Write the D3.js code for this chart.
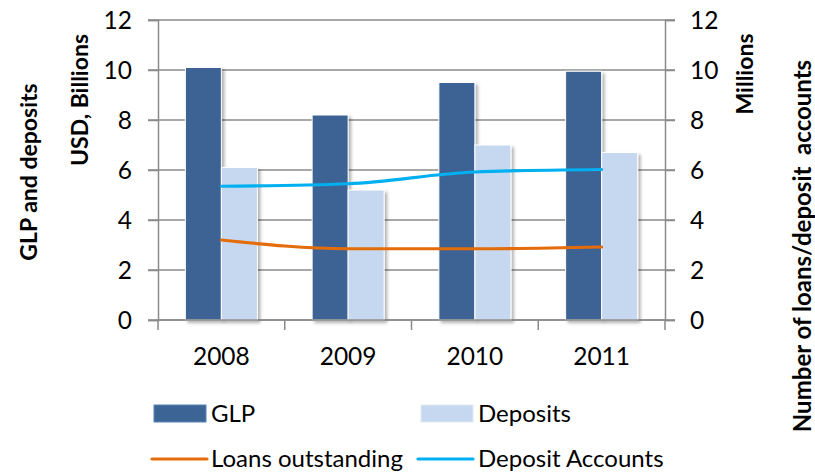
<!DOCTYPE html>
<html>
<head>
<meta charset="utf-8">
<script src="https://cdn.jsdelivr.net/npm/d3@7"></script>
<style>
  body { margin: 0; background: #fff; }
  svg { font-family: Lato, "Open Sans", sans-serif; }
  .tick-label { font-size: 24.5px; fill: #000; }
  .axis-title { font-size: 23px; font-weight: bold; fill: #000; white-space: pre; }
  .legend-label { font-size: 24px; fill: #000; }
</style>
</head>
<body>
<svg id="chart" width="815" height="473"></svg>
<script>
const YEARS = ["2008", "2009", "2010", "2011"];
const GLP = [10.1, 8.2, 9.5, 9.95];
const DEPOSITS = [6.1, 5.2, 7.0, 6.7];
const LOANS_OUTSTANDING = [3.2, 2.85, 2.85, 2.92];
const DEPOSIT_ACCOUNTS = [5.35, 5.45, 5.92, 6.02];
const Y_TICKS = [0, 2, 4, 6, 8, 10, 12];

const BAR_SERIES = [
  { name: "GLP", values: GLP, color: "#3C6494" },
  { name: "Deposits", values: DEPOSITS, color: "#C6D8EF" },
];
const LINE_SERIES = [
  { name: "Loans outstanding", values: LOANS_OUTSTANDING, color: "#E46C0A" },
  { name: "Deposit Accounts", values: DEPOSIT_ACCOUNTS, color: "#00B0F0" },
];

const PLOT = { left: 158, right: 665, top: 20, bottom: 320 };
const GRID = "#8a8a8a";

const svg = d3.select("#chart");

const defs = svg.append("defs");
defs
  .append("filter")
  .attr("id", "shadow")
  .attr("x", "-20%")
  .attr("y", "-5%")
  .attr("width", "150%")
  .attr("height", "120%")
  .append("feDropShadow")
  .attr("dx", 2.5)
  .attr("dy", 2.5)
  .attr("stdDeviation", 1.8)
  .attr("flood-color", "#000")
  .attr("flood-opacity", 0.3);

const x = d3
  .scaleBand()
  .domain(YEARS)
  .range([PLOT.left, PLOT.right])
  .padding(0);

const xInner = d3
  .scaleBand()
  .domain(BAR_SERIES.map((s) => s.name))
  .range([0, x.bandwidth()])
  .paddingInner(0)
  .paddingOuter(0.76);

const y = d3.scaleLinear().domain([0, 12]).range([PLOT.bottom, PLOT.top]);
const yRight = d3.scaleLinear().domain([0, 12]).range([PLOT.bottom, PLOT.top]);

// gridlines (incl. the little tick stubs on both sides)
svg
  .append("g")
  .selectAll("line")
  .data(Y_TICKS)
  .join("line")
  .attr("x1", PLOT.left - 10)
  .attr("x2", PLOT.right + 10)
  .attr("y1", (d) => y(d))
  .attr("y2", (d) => y(d))
  .attr("stroke", GRID)
  .attr("stroke-width", 1.5);

// left axis
const leftAxis = svg
  .append("g")
  .attr("transform", "translate(" + PLOT.left + ",0)")
  .call(d3.axisLeft(y).tickValues(Y_TICKS).tickSize(10).tickPadding(16));
// right axis
const rightAxis = svg
  .append("g")
  .attr("transform", "translate(" + PLOT.right + ",0)")
  .call(d3.axisRight(yRight).tickValues(Y_TICKS).tickSize(10).tickPadding(15));

[leftAxis, rightAxis].forEach((g) => {
  g.attr("font-family", null).attr("font-size", null);
  g.select(".domain").attr("stroke", GRID).attr("stroke-width", 1.5);
  g.selectAll(".tick line").attr("stroke", GRID).attr("stroke-width", 1.5);
  g.selectAll(".tick text").attr("class", "tick-label").attr("dy", "0.35em");
});

// bars
const groups = svg
  .append("g")
  .selectAll("g")
  .data(YEARS)
  .join("g")
  .attr("transform", (d) => "translate(" + x(d) + ",0)");

groups
  .selectAll("rect")
  .data((d, i) => BAR_SERIES.map((s) => ({ name: s.name, value: s.values[i], color: s.color })))
  .join("rect")
  .attr("x", (d) => xInner(d.name))
  .attr("width", xInner.bandwidth())
  .attr("y", (d) => y(d.value))
  .attr("height", (d) => y(0) - y(d.value))
  .attr("fill", (d) => d.color)
  .attr("stroke", "#fff")
  .attr("stroke-width", 1)
  .attr("filter", "url(#shadow)");

// bottom axis
const bottom = svg.append("g");
bottom
  .append("line")
  .attr("x1", PLOT.left)
  .attr("x2", PLOT.right)
  .attr("y1", PLOT.bottom)
  .attr("y2", PLOT.bottom)
  .attr("stroke", GRID)
  .attr("stroke-width", 1.5);
bottom
  .selectAll(".cat-tick")
  .data(YEARS.concat(["end"]))
  .join("line")
  .attr("class", "cat-tick")
  .attr("x1", (d) => (d === "end" ? PLOT.right : x(d)))
  .attr("x2", (d) => (d === "end" ? PLOT.right : x(d)))
  .attr("y1", PLOT.bottom)
  .attr("y2", PLOT.bottom + 10)
  .attr("stroke", GRID)
  .attr("stroke-width", 1.5);
bottom
  .selectAll("text")
  .data(YEARS)
  .join("text")
  .attr("class", "tick-label")
  .attr("x", (d) => x(d) + x.bandwidth() / 2)
  .attr("y", 365)
  .attr("text-anchor", "middle")
  .text((d) => d);

// lines
const line = d3
  .line()
  .curve(d3.curveMonotoneX)
  .x((d, i) => x(YEARS[i]) + x.bandwidth() / 2)
  .y((d) => yRight(d));

svg
  .append("g")
  .selectAll("path")
  .data(LINE_SERIES)
  .join("path")
  .attr("d", (d) => line(d.values))
  .attr("fill", "none")
  .attr("stroke", (d) => d.color)
  .attr("stroke-width", 3.2)
  .attr("stroke-linecap", "round");

// axis titles
const titles = [
  { text: "GLP and deposits", x: 29, y: 172 },
  { text: "USD, Billions", x: 80, y: 100 },
  { text: "Millions", x: 745, y: 74 },
  { text: "Number of loans/deposit  accounts", x: 803, y: 246, size: 24 },
];
svg
  .append("g")
  .selectAll("text")
  .data(titles)
  .join("text")
  .attr("class", "axis-title")
  .attr("transform", (d) => "translate(" + d.x + "," + d.y + ") rotate(-90)")
  .attr("text-anchor", "middle")
  .attr("dy", "0.35em")
  .style("font-size", (d) => (d.size ? d.size + "px" : null))
  .text((d) => d.text);

// legend
const legend = svg.append("g");
const barLegend = legend
  .selectAll(".bar-item")
  .data(BAR_SERIES)
  .join("g")
  .attr("class", "bar-item")
  .attr("transform", (d, i) => "translate(" + (i === 0 ? 154 : 421) + ",405)");
barLegend
  .append("rect")
  .attr("width", 52)
  .attr("height", 17)
  .attr("fill", (d) => d.color)
  .attr("stroke", (d, i) => (i === 0 ? "#5b84b8" : "#e0e9f5"))
  .attr("stroke-width", 1);
barLegend
  .append("text")
  .attr("class", "legend-label")
  .attr("x", 57)
  .attr("y", 8.5)
  .attr("dy", "0.35em")
  .text((d) => d.name);

const lineLegend = legend
  .selectAll(".line-item")
  .data(LINE_SERIES)
  .join("g")
  .attr("class", "line-item")
  .attr("transform", (d, i) => "translate(" + (i === 0 ? 152 : 418) + ",459)");
lineLegend
  .append("line")
  .attr("x1", 0)
  .attr("x2", 55)
  .attr("stroke", (d) => d.color)
  .attr("stroke-width", 3.2)
  .attr("stroke-linecap", "round");
lineLegend
  .append("text")
  .attr("class", "legend-label")
  .attr("x", (d, i) => (i === 0 ? 59 : 60))
  .attr("dy", "0.35em")
  .text((d) => d.name);
</script>
</body>
</html>
